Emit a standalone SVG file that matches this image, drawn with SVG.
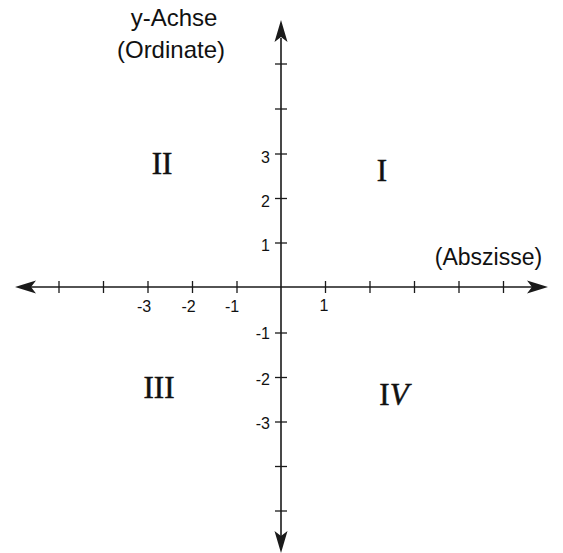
<svg xmlns="http://www.w3.org/2000/svg" width="563" height="553" viewBox="0 0 563 553">
<style>
.ax{stroke:#1a1a1a;stroke-width:1.6;fill:none}
.tk{stroke:#1a1a1a;stroke-width:1.3}
.ah{fill:#1a1a1a}
.sans{font-family:"Liberation Sans",Arial,sans-serif;fill:#111}
.lab{font-size:24px;text-anchor:middle}
.num{font-size:16px}
.q{font-family:"Liberation Serif","Times New Roman",serif;font-size:31px;fill:#111;stroke:#111;stroke-width:0.5;text-anchor:middle}
</style>
<rect width="563" height="553" fill="#fff"/>
<g id="connectors">
<line class="ax" x1="30" y1="287" x2="532" y2="287"/>
<line class="ax" x1="281" y1="38" x2="281" y2="536"/>
<path class="ah" d="M15,287 L36,280.5 L31,287 L36,293.5 Z"/>
<path class="ah" d="M548,287 L527,280.5 L532,287 L527,293.5 Z"/>
<path class="ah" d="M281,20 L274.5,42 L281,37 L287.5,42 Z"/>
<path class="ah" d="M281,553 L274.5,531 L281,536 L287.5,531 Z"/>
<g id="xticks">
<line class="tk" x1="59" y1="281" x2="59" y2="293"/>
<line class="tk" x1="103.5" y1="281" x2="103.5" y2="293"/>
<line class="tk" x1="148" y1="281" x2="148" y2="293"/>
<line class="tk" x1="192.5" y1="281" x2="192.5" y2="293"/>
<line class="tk" x1="237" y1="281" x2="237" y2="293"/>
<line class="tk" x1="325.5" y1="281" x2="325.5" y2="293"/>
<line class="tk" x1="370" y1="281" x2="370" y2="293"/>
<line class="tk" x1="414.5" y1="281" x2="414.5" y2="293"/>
<line class="tk" x1="459" y1="281" x2="459" y2="293"/>
<line class="tk" x1="503.5" y1="281" x2="503.5" y2="293"/>
</g>
<g id="yticks">
<line class="tk" x1="275" y1="64" x2="287" y2="64"/>
<line class="tk" x1="275" y1="109" x2="287" y2="109"/>
<line class="tk" x1="275" y1="154" x2="287" y2="154"/>
<line class="tk" x1="275" y1="198.5" x2="287" y2="198.5"/>
<line class="tk" x1="275" y1="243" x2="287" y2="243"/>
<line class="tk" x1="275" y1="333" x2="287" y2="333"/>
<line class="tk" x1="275" y1="377.5" x2="287" y2="377.5"/>
<line class="tk" x1="275" y1="422" x2="287" y2="422"/>
<line class="tk" x1="275" y1="466.5" x2="287" y2="466.5"/>
<line class="tk" x1="275" y1="511" x2="287" y2="511"/>
</g>
</g>
<g id="axis-labels">
<text class="sans lab" x="174" y="26">y-Achse</text>
<text class="sans lab" x="171" y="58">(Ordinate)</text>
<text class="sans" x="488.5" y="265" font-size="23" text-anchor="middle">(Abszisse)</text>
</g>
<g id="tick-labels" class="sans num">
<text x="144" y="312" text-anchor="middle">-3</text>
<text x="188.5" y="312" text-anchor="middle">-2</text>
<text x="232" y="312" text-anchor="middle">-1</text>
<text x="324" y="311" text-anchor="middle">1</text>
<text x="270" y="163" text-anchor="end">3</text>
<text x="270" y="207" text-anchor="end">2</text>
<text x="270" y="251" text-anchor="end">1</text>
<text x="270" y="339" text-anchor="end">-1</text>
<text x="270" y="385" text-anchor="end">-2</text>
<text x="270" y="429" text-anchor="end">-3</text>
</g>
<g id="quadrant-I"><text class="q" x="382" y="181">I</text></g>
<g id="quadrant-II"><text class="q" x="162" y="174">II</text></g>
<g id="quadrant-III"><text class="q" x="159" y="398">III</text></g>
<g id="quadrant-IV"><text class="q" x="394" y="405">I<tspan font-style="italic">V</tspan></text></g>
</svg>
